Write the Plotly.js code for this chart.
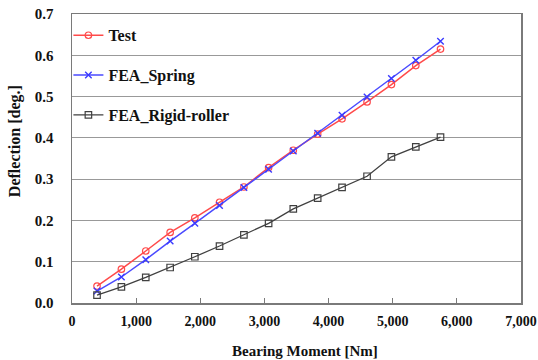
<!DOCTYPE html>
<html>
<head>
<meta charset="utf-8">
<script src="https://cdn.plot.ly/plotly-3.0.1.min.js"></script>
<style>html,body{margin:0;padding:0;background:#fff;}#chart{width:538px;height:360px;}</style>
</head>
<body>
<div id="chart"></div>
<script>
const moment = [390, 770, 1150, 1530, 1915, 2300, 2680, 3065, 3450, 3830, 4210, 4600, 4980, 5360, 5745];
const testDeflection = [0.041, 0.082, 0.126, 0.171, 0.206, 0.244, 0.281, 0.328, 0.370, 0.409, 0.446, 0.487, 0.529, 0.575, 0.615];
const springDeflection = [0.029, 0.063, 0.105, 0.150, 0.193, 0.236, 0.280, 0.324, 0.368, 0.411, 0.455, 0.499, 0.544, 0.588, 0.634];
const rigidDeflection = [0.019, 0.039, 0.062, 0.086, 0.112, 0.138, 0.165, 0.193, 0.228, 0.254, 0.280, 0.307, 0.354, 0.378, 0.402];
const seriesNames = ['Test', 'FEA_Spring', 'FEA_Rigid-roller'];
const xTitle = 'Bearing Moment [Nm]';
const yTitle = 'Deflection [deg.]';

const font = 'Liberation Serif, Times New Roman, serif';

const traces = [
  {x: moment, y: testDeflection, name: seriesNames[0], legendgroup: 'a', mode: 'lines+markers',
   line: {color: '#ff4a4a', width: 1.5},
   marker: {symbol: 'circle-open', size: 6.5, color: '#ff4a4a', line: {width: 1.2}}},
  {x: moment, y: springDeflection, name: seriesNames[1], legendgroup: 'b', mode: 'lines+markers',
   line: {color: '#4a4aff', width: 1.5},
   marker: {symbol: 'x-thin-open', size: 6.5, color: '#3a3aff', line: {width: 1.4, color: '#3a3aff'}}},
  {x: moment, y: rigidDeflection, name: seriesNames[2], legendgroup: 'c', mode: 'lines+markers',
   line: {color: '#404040', width: 1.3},
   marker: {symbol: 'square-open', size: 6.5, color: '#404040', line: {width: 1.2}}}
];

const layout = {
  width: 538, height: 360,
  margin: {l: 72, r: 17, t: 14, b: 57},
  paper_bgcolor: '#fff', plot_bgcolor: '#fff',
  showlegend: true,
  legend: {x: -0.008, y: 0.985, xanchor: 'left', yanchor: 'top', traceorder: 'grouped', tracegroupgap: 16,
           bgcolor: 'rgba(0,0,0,0)', itemwidth: 30,
           font: {family: font, size: 16, color: '#111', weight: 'bold'}},
  xaxis: {range: [0, 7000], dtick: 1000, tickformat: ',', showgrid: false, zeroline: false,
          showline: true, mirror: true, linecolor: '#7a7a7a', linewidth: 1.5,
          ticks: 'inside', ticklen: 5, tickcolor: '#7a7a7a', ticklabelstandoff: 5,
          ticklabeloverflow: 'allow',
          tickfont: {family: font, size: 14, color: '#111', weight: 'bold'}},
  yaxis: {range: [0, 0.7], dtick: 0.1, tickformat: '.1f', showgrid: true, gridcolor: '#999', gridwidth: 1,
          zeroline: false, showline: true, mirror: true, linecolor: '#7a7a7a', linewidth: 1.5,
          ticks: '', ticklabelstandoff: 14, ticklabeloverflow: 'allow',
          tickfont: {family: font, size: 15, color: '#111', weight: 'bold'}},
  annotations: [
    {text: xTitle, xref: 'paper', yref: 'paper', x: 0.52, y: -0.166, xanchor: 'center', yanchor: 'middle',
     showarrow: false, font: {family: font, size: 15, color: '#111', weight: 'bold'}},
    {text: yTitle, xref: 'paper', yref: 'paper', x: -0.127, y: 0.56, xanchor: 'center', yanchor: 'middle',
     textangle: -90, showarrow: false, font: {family: font, size: 16, color: '#111', weight: 'bold'}}
  ]
};

Plotly.newPlot('chart', traces, layout, {displayModeBar: false, staticPlot: true});
</script>
</body>
</html>
